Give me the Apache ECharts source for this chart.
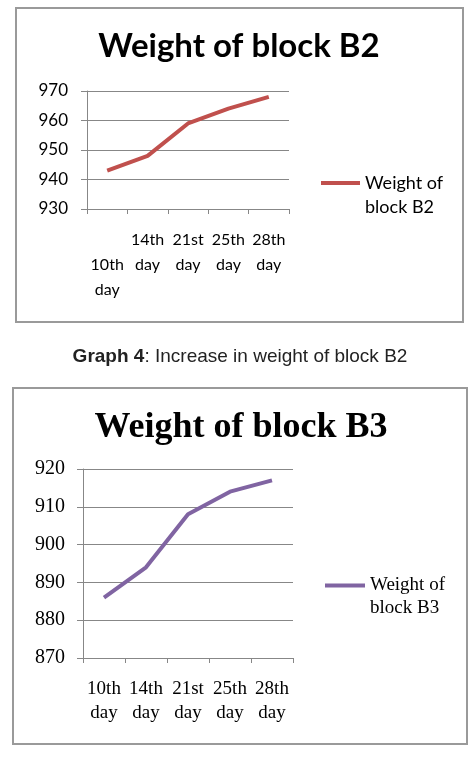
<!DOCTYPE html>
<html>
<head>
<meta charset="utf-8">
<script src="https://cdn.jsdelivr.net/npm/echarts@6/dist/echarts.min.js"></script>
<style>
  html, body { margin: 0; padding: 0; background: #fff; }
  #chart { width: 470px; height: 762px; }
</style>
</head>
<body>
<div id="chart"></div>
<script>
// categories + values
var days = ['10th day', '14th day', '21st day', '25th day', '28th day']
var weightB2 = [943, 948, 959, 964, 968]
var weightB3 = [886, 894, 908, 914, 917]
var ticksB2 = [930, 940, 950, 960, 970]
var ticksB3 = [870, 880, 890, 900, 910, 920]

var sans = 'Lato'
var serif = 'Liberation Serif'
var gridColor = '#878787'

var myChart = echarts.init(document.getElementById('chart'))

function dayLabel(firstLow) {
  return function (val, idx) {
    var parts = val.split(' ')
    // excel pushed the first label one line down in the top chart
    if (firstLow && idx === 0) return '\n' + parts[0] + '\n' + parts[1]
    return parts[0] + '\n' + parts[1]
  }
}

myChart.setOption({
  animation: false,
  title: [
    {
      text: 'Weight of block B2',
      left: 239,
      top: 30,
      padding: 0,
      textAlign: 'center',
      textStyle: { fontFamily: sans, fontWeight: 'bold', fontSize: 33, color: '#000' },
    },
    {
      text: '{b|Graph 4}: Increase in weight of block B2',
      left: 240,
      top: 347,
      padding: 0,
      textAlign: 'center',
      textStyle: {
        fontFamily: 'Liberation Sans', fontSize: 19, fontWeight: 'normal', color: '#222',
        rich: { b: { fontFamily: 'Liberation Sans', fontSize: 19, fontWeight: 'bold', color: '#222' } },
      },
    },
    {
      text: 'Weight of block B3',
      left: 241,
      top: 410,
      padding: 0,
      textAlign: 'center',
      textStyle: { fontFamily: serif, fontWeight: 'bold', fontSize: 36, color: '#000' },
    },
  ],
  legend: [
    {
      data: ['Weight of block B2'],
      left: 319,
      top: 147,
      padding: 0,
      itemWidth: 39,
      itemHeight: 24,
      formatter: function () { return '\nWeight of\nblock B2' },
      textStyle: { fontFamily: sans, fontSize: 18, color: '#000', lineHeight: 24 },
      itemStyle: { opacity: 0 },
      lineStyle: { width: 4 },
    },
    {
      data: ['Weight of block B3'],
      left: 323,
      top: 551,
      padding: 0,
      itemWidth: 40,
      itemHeight: 24,
      formatter: function () { return '\nWeight of\nblock B3' },
      textStyle: { fontFamily: serif, fontSize: 19, color: '#000', lineHeight: 23 },
      itemStyle: { opacity: 0 },
      lineStyle: { width: 4 },
    },
  ],
  grid: [
    { left: 87, top: 91, width: 202, height: 118 },
    { left: 83, top: 469, width: 210, height: 189 },
  ],
  xAxis: [
    {
      gridIndex: 0,
      type: 'category',
      data: days,
      boundaryGap: true,
      axisLine: { lineStyle: { color: gridColor, width: 1 } },
      axisTick: { show: true, length: 5, lineStyle: { color: gridColor } },
      axisLabel: {
        interval: 0, margin: 18, color: '#000', fontFamily: sans, fontSize: 16, lineHeight: 25,
        formatter: dayLabel(true),
      },
    },
    {
      gridIndex: 1,
      type: 'category',
      data: days,
      boundaryGap: true,
      axisLine: { lineStyle: { color: gridColor, width: 1 } },
      axisTick: { show: true, length: 5, lineStyle: { color: gridColor } },
      axisLabel: {
        interval: 0, margin: 19, color: '#000', fontFamily: serif, fontSize: 19, lineHeight: 24,
        formatter: dayLabel(false),
      },
    },
  ],
  yAxis: [
    {
      gridIndex: 0,
      type: 'value',
      min: ticksB2[0],
      max: ticksB2[ticksB2.length - 1],
      interval: 10,
      axisLine: { show: true, lineStyle: { color: gridColor } },
      axisTick: { show: true, length: 6, lineStyle: { color: gridColor } },
      splitLine: { lineStyle: { color: gridColor, width: 1 } },
      axisLabel: { margin: 19, color: '#000', fontFamily: sans, fontSize: 17 },
    },
    {
      gridIndex: 1,
      type: 'value',
      min: ticksB3[0],
      max: ticksB3[ticksB3.length - 1],
      interval: 10,
      axisLine: { show: true, lineStyle: { color: gridColor } },
      axisTick: { show: true, length: 6, lineStyle: { color: gridColor } },
      splitLine: { lineStyle: { color: gridColor, width: 1 } },
      axisLabel: { margin: 18, color: '#000', fontFamily: serif, fontSize: 20 },
    },
  ],
  series: [
    {
      name: 'Weight of block B2',
      type: 'line',
      xAxisIndex: 0,
      yAxisIndex: 0,
      data: weightB2,
      showSymbol: false,
      symbol: 'none',
      color: '#C0504D',
      lineStyle: { width: 4, color: '#C0504D' },
    },
    {
      name: 'Weight of block B3',
      type: 'line',
      xAxisIndex: 1,
      yAxisIndex: 1,
      data: weightB3,
      showSymbol: false,
      symbol: 'none',
      color: '#8064A2',
      lineStyle: { width: 4, color: '#8064A2' },
    },
  ],
  graphic: [
    {
      type: 'rect',
      shape: { x: 16, y: 8, width: 447, height: 314 },
      style: { fill: 'none', stroke: '#9a9a9a', lineWidth: 2 },
      silent: true,
    },
    {
      type: 'rect',
      shape: { x: 13, y: 388, width: 454, height: 356 },
      style: { fill: 'none', stroke: '#9a9a9a', lineWidth: 2 },
      silent: true,
    },
  ],
})
</script>
</body>
</html>
